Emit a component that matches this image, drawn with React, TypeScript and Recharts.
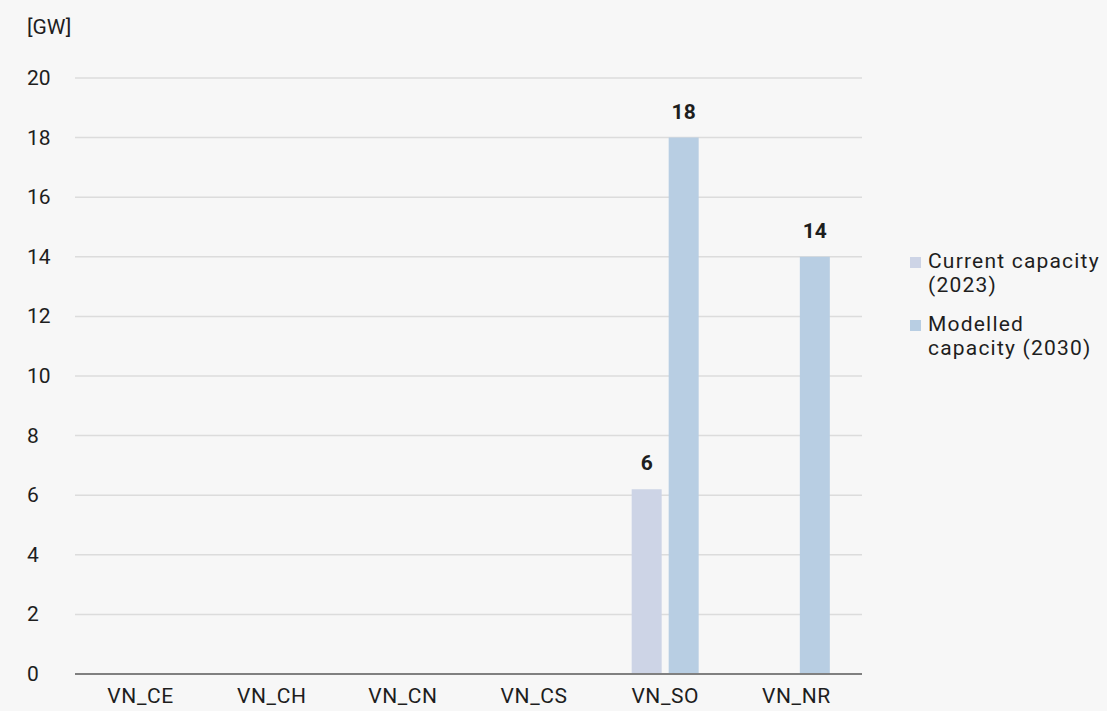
import { BarChart, Bar, XAxis, YAxis, CartesianGrid, LabelList } from "recharts";

const regions = ["VN_CE", "VN_CH", "VN_CN", "VN_CS", "VN_SO", "VN_NR"];
const currentCapacity = [null, null, null, null, 6.2, null];
const modelledCapacity = [null, null, null, null, 18, 14];
const yTicks = [0, 2, 4, 6, 8, 10, 12, 14, 16, 18, 20];

const series = [
  { key: "current", name: "Current capacity (2023)", lines: ["Current capacity", "(2023)"], color: "#CDD4E6" },
  { key: "modelled", name: "Modelled capacity (2030)", lines: ["Modelled", "capacity (2030)"], color: "#B8CEE3" },
];

const data = regions.map((region, i) => ({
  region,
  current: currentCapacity[i],
  modelled: modelledCapacity[i],
}));

const FONT = "Roboto, 'Noto Sans', sans-serif";
const TEXT = "#1E1E1E";
const FS = 21;

const YTick = ({ y, payload }: any) => (
  <text x={27} y={y} dy={7} textAnchor="start" fontSize={FS} fill={TEXT} fontFamily={FONT}>
    {payload.value}
  </text>
);

// bottom labels sit right at the edge of the frame
const XTick = ({ x, payload }: any) => (
  <text x={x} y={703} textAnchor="middle" fontSize={FS} fill={TEXT} fontFamily={FONT} letterSpacing={0.6}>
    {payload.value}
  </text>
);

const ValueLabel = ({ x, y, width, value }: any) => {
  if (value == null) return null;
  return (
    <text x={x + width / 2} y={y - 19} textAnchor="middle" fontSize={FS} fontWeight={700} fill={TEXT} fontFamily={FONT}>
      {Math.round(value)}
    </text>
  );
};

const LegendBox = () => (
  <div
    style={{
      position: "absolute", left: 910, top: 249, width: 197,
      fontFamily: FONT, fontSize: FS, color: TEXT, lineHeight: "24px", letterSpacing: 1.2,
      whiteSpace: "nowrap",
    }}
  >
    {series.map((s) => (
      <div key={s.key} style={{ display: "flex", alignItems: "flex-start", marginBottom: 15 }}>
        <span style={{ width: 11, height: 11, background: s.color, marginTop: 8, marginRight: 7, flexShrink: 0 }} />
        <div>
          {s.lines.map((l) => (
            <div key={l}>{l}</div>
          ))}
        </div>
      </div>
    ))}
  </div>
);

export default function App() {
  return (
    <div style={{ position: "fixed", left: 0, top: 0, width: 1107, height: 711, background: "#F7F7F7", overflow: "hidden" }}>
      <BarChart
        width={1107}
        height={711}
        data={data}
        margin={{ top: 78, right: 245, left: 0, bottom: 0 }}
        barSize={30}
        barGap={7}
      >
        <text x={27} y={34} fontSize={FS} fill={TEXT} fontFamily={FONT}>[GW]</text>
        <CartesianGrid vertical={false} stroke="#DCDCDC" strokeWidth={1.5} />
        <XAxis
          dataKey="region"
          height={37}
          tick={<XTick />}
          tickLine={false}
          axisLine={{ stroke: "#808080", strokeWidth: 2 }}
        />
        <YAxis
          width={75}
          domain={[0, 20]}
          ticks={yTicks}
          interval={0}
          tick={<YTick />}
          tickLine={false}
          axisLine={false}
        />
        {series.map((s) => (
          <Bar key={s.key} dataKey={s.key} name={s.name} fill={s.color} isAnimationActive={false}>
            <LabelList dataKey={s.key} content={<ValueLabel />} />
          </Bar>
        ))}
      </BarChart>
      <LegendBox />
    </div>
  );
}
